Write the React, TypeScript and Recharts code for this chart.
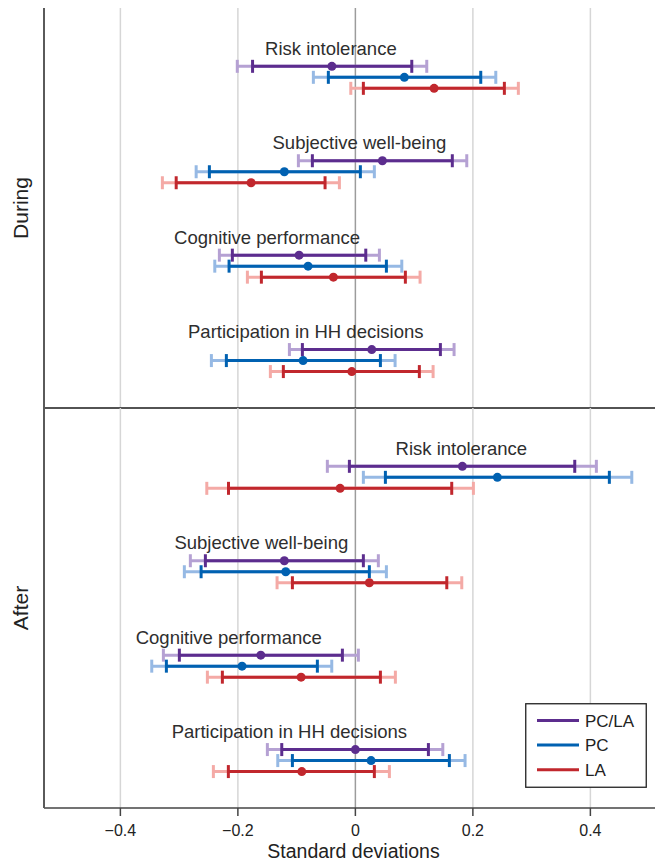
import React from 'react';
import {
  ScatterChart,
  Scatter,
  XAxis,
  YAxis,
  ErrorBar,
  ReferenceLine,
  LabelList,
  Legend,
} from 'recharts';

// ---------- data ----------
const groups = [
  'Risk intolerance',
  'Subjective well-being',
  'Cognitive performance',
  'Participation in HH decisions',
];
const seriesNames = ['PC/LA', 'PC', 'LA'];
const xTicks = [-0.4, -0.2, 0, 0.2, 0.4];
const panelNames = ['During', 'After'];

// each row: [estimate, lo90, hi90, lo95, hi95]
const duringPCLA = [
  [-0.04, -0.175, 0.096, -0.201, 0.1215],
  [0.046, -0.0732, 0.165, -0.097, 0.1896],
  [-0.0958, -0.2094, 0.0177, -0.2315, 0.0409],
  [0.0279, -0.0902, 0.1447, -0.1123, 0.168],
];
const duringPC = [
  [0.0834, -0.046, 0.2134, -0.0715, 0.239],
  [-0.1209, -0.2485, 0.0085, -0.271, 0.0323],
  [-0.0805, -0.215, 0.0528, -0.2393, 0.079],
  [-0.089, -0.2196, 0.0426, -0.2451, 0.0676],
];
const duringLA = [
  [0.134, 0.0136, 0.2536, -0.0078, 0.2774],
  [-0.1775, -0.305, -0.0516, -0.3285, -0.0272],
  [-0.0374, -0.16, 0.0851, -0.1838, 0.1101],
  [-0.0061, -0.1226, 0.1089, -0.1447, 0.1323],
];
const afterPCLA = [
  [0.1821, -0.0102, 0.3734, -0.0477, 0.4102],
  [-0.1209, -0.2553, 0.0136, -0.2809, 0.0391],
  [-0.161, -0.2996, -0.0221, -0.3268, 0.0051],
  [0.0, -0.1253, 0.1243, -0.1498, 0.1488],
];
const afterPC = [
  [0.2417, 0.0511, 0.4323, 0.0136, 0.4705],
  [-0.1185, -0.2626, 0.0238, -0.2911, 0.0528],
  [-0.1929, -0.3217, -0.0647, -0.3466, -0.0402],
  [0.0267, -0.1072, 0.16, -0.1321, 0.1867],
];
const afterLA = [
  [-0.026, -0.216, 0.164, -0.2529, 0.2009],
  [0.0238, -0.1072, 0.1556, -0.1333, 0.1811],
  [-0.0924, -0.2264, 0.0426, -0.2519, 0.0681],
  [-0.0912, -0.2162, 0.0323, -0.2417, 0.0579],
];

// ---------- layout / style ----------
const FONT = '"Liberation Sans", Arial, Helvetica, sans-serif';
const W = 655;
const X_DOMAIN = [-0.53, 0.51];
const Y_MIN = -5.3;
const Y_MAX = 31.05;
const GROUP_STEP = 8.58;
const LABEL_DX = [-1, -23, -32, -66];
const darkColors = ['#5c2d8e', '#0061b1', '#c1272d'];
const lightColors = ['#b5a1d3', '#96b9e4', '#f4aaa6'];

const panelSeries = [
  [duringPCLA, duringPC, duringLA],
  [afterPCLA, afterPC, afterLA],
];

const buildSeries = (rows: number[][], s: number) =>
  rows.map((r, g) => ({
    x: r[0],
    y: g * GROUP_STEP + s,
    e90: [r[0] - r[1], r[2] - r[0]],
    e95: [r[0] - r[3], r[4] - r[0]],
    label: groups[g],
  }));

const fmtTick = (v: number) =>
  v === 0 ? '0' : v < 0 ? '\u2212' + String(Math.abs(v)) : String(v);

const GroupLabel = (props: any) => {
  const vb = props.viewBox && props.viewBox.width !== undefined ? props.viewBox : props;
  const cx = Number(vb.x) + Number(vb.width) / 2;
  const cy = Number(vb.y) + Number(vb.height) / 2;
  const gi = groups.indexOf(props.value);
  return (
    <text
      x={cx + (gi >= 0 ? LABEL_DX[gi] : 0)}
      y={cy - 11.5}
      textAnchor="middle"
      fontSize={18.5}
      fill="#2e2e2e"
      fontFamily={FONT}
    >
      {props.value}
    </text>
  );
};

const LegendBox = () => (
  <svg width={122} height={85} style={{ display: 'block' }}>
    <rect x={0.75} y={0.75} width={120.5} height={83.5} fill="#fff" stroke="#222" strokeWidth={1.3} />
    {seriesNames.map((n, i) => {
      const cy = 17.5 + i * 24.6;
      return (
        <g key={n}>
          <line x1={12} x2={54} y1={cy} y2={cy} stroke={darkColors[i]} strokeWidth={3} />
          <text x={60} y={cy + 6} fontSize={17} fill="#222" fontFamily={FONT}>
            {n}
          </text>
        </g>
      );
    })}
  </svg>
);

const Panel = ({ p }: { p: number }) => {
  const isBottom = p === 1;
  const height = isBottom ? 454 : 412;
  const margin = isBottom
    ? { top: 0, right: 0, bottom: 0, left: 0 }
    : { top: 8, right: 0, bottom: 4, left: 0 };
  return (
    <ScatterChart width={W} height={height} margin={margin}>
      {xTicks.map((t) => (
        <ReferenceLine
          key={'g' + t}
          x={t}
          stroke={t === 0 ? '#9c9c9c' : '#d6d6d6'}
          strokeWidth={1.5}
        />
      ))}
      {!isBottom ? <ReferenceLine y={Y_MAX} stroke="#1a1a1a" strokeWidth={1.6} /> : null}
      <XAxis
        type="number"
        dataKey="x"
        domain={X_DOMAIN}
        allowDataOverflow
        ticks={xTicks}
        interval={0}
        tickFormatter={fmtTick}
        hide={!isBottom}
        height={isBottom ? 54 : 0}
        tick={{ fill: '#222', fontSize: 16, fontFamily: FONT }}
        tickLine={{ stroke: '#444', strokeWidth: 1.5 }}
        tickSize={8}
        tickMargin={9}
        axisLine={{ stroke: '#444', strokeWidth: 1.6 }}
        label={
          isBottom
            ? {
                value: 'Standard deviations',
                position: 'insideBottom',
                offset: 4,
                dx: 4,
                fontSize: 19.5,
                fill: '#222',
                fontFamily: FONT,
              }
            : undefined
        }
      />
      <YAxis
        type="number"
        dataKey="y"
        domain={[Y_MIN, Y_MAX]}
        allowDataOverflow
        reversed
        width={44}
        tick={false}
        tickLine={false}
        axisLine={{ stroke: '#5a5a5a', strokeWidth: 2 }}
        label={{
          value: panelNames[p],
          angle: -90,
          position: 'insideLeft',
          offset: 21,
          fontSize: 21,
          fill: '#222',
          fontFamily: FONT,
          style: { textAnchor: 'middle' },
        }}
      />
      {panelSeries[p].map((rows, s) => (
        <Scatter
          key={seriesNames[s]}
          name={seriesNames[s]}
          data={buildSeries(rows, s)}
          fill={darkColors[s]}
          shape="circle"
          isAnimationActive={false}
        >
          <ErrorBar
            dataKey="e95"
            direction="x"
            width={6.5}
            stroke={lightColors[s]}
            strokeWidth={3}
            isAnimationActive={false}
          />
          <ErrorBar
            dataKey="e90"
            direction="x"
            width={6.5}
            stroke={darkColors[s]}
            strokeWidth={3}
            isAnimationActive={false}
          />
          {s === 0 ? <LabelList dataKey="label" content={GroupLabel} /> : null}
        </Scatter>
      ))}
      {isBottom ? (
        <Legend
          layout="vertical"
          align="center"
          verticalAlign="middle"
          content={() => <LegendBox />}
          wrapperStyle={{ left: 525, top: 295, width: 122, height: 85 }}
        />
      ) : null}
    </ScatterChart>
  );
};

export default function App() {
  return (
    <div
      style={{
        position: 'absolute',
        left: 0,
        top: 0,
        width: W,
        height: 862,
        background: '#fff',
        fontFamily: FONT,
        overflow: 'hidden',
      }}
    >
      <div style={{ position: 'absolute', left: 0, top: 0 }}>
        <Panel p={0} />
      </div>
      <div style={{ position: 'absolute', left: 0, top: 408 }}>
        <Panel p={1} />
      </div>
    </div>
  );
}
